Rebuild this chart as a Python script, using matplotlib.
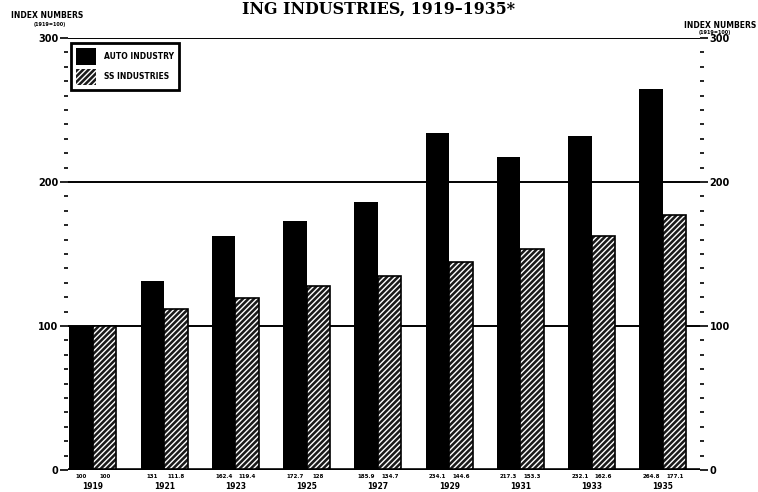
import matplotlib.pyplot as plt
import numpy as np

years = ['1919', '1921', '1923', '1925', '1927', '1929', '1931', '1933', '1935']
auto = [100, 131, 162.4, 172.7, 185.9, 234.1, 217.3, 232.1, 264.8]
ss = [100, 111.8, 119.4, 128, 134.7, 144.6, 153.3, 162.6, 177.1]
y_ticks = [0, 100, 200, 300]

plt.rcParams['hatch.color'] = 'white'
plt.rcParams['hatch.linewidth'] = 1.0

fig = plt.figure(figsize=(7.58, 4.92), dpi=100)
ax = fig.add_axes([0.0897, 0.0447, 0.8338, 0.8783])

x = np.arange(len(years))
w = 0.33

# reference lines at 100/200/300, drawn under the bars
for v in y_ticks[1:]:
    ax.axhline(v, color='black', lw=1.4, zorder=1)
ax.axhline(0, color='black', lw=2.6, zorder=4)

ax.bar(x - w / 2, auto, w, color='black', edgecolor='black', lw=0, zorder=2)
ax.bar(x + w / 2, ss, w, color='#1a1a1a', edgecolor='white', hatch='//////', lw=0, zorder=2)
ax.bar(x + w / 2, ss, w, fill=False, edgecolor='black', lw=1.2, zorder=3)

ax.set_xlim(-0.35, 8.52)
ax.set_ylim(0, 300)
for s in ax.spines.values():
    s.set_visible(False)
ax.set_xticks([])
ax.set_yticks(y_ticks)
ax.set_yticklabels(['0', '100', '200', '300'], fontsize=7, fontweight='bold')
ax.set_yticks(np.arange(0, 301, 10), minor=True)
ax.tick_params(axis='y', which='major', length=6, width=1.2, pad=1)
ax.tick_params(axis='y', which='minor', length=3, width=1.2)

ax2 = ax.twinx()
ax2.set_ylim(0, 300)
for s in ax2.spines.values():
    s.set_visible(False)
ax2.set_yticks(y_ticks)
ax2.set_yticklabels(['0', '100', '200', '300'], fontsize=7, fontweight='bold')
ax2.set_yticks(np.arange(0, 301, 10), minor=True)
ax2.tick_params(axis='y', which='major', length=6, width=1.2, pad=1)
ax2.tick_params(axis='y', which='minor', length=3, width=1.2)

# values and years below each pair
for i in range(len(years)):
    ax.text(x[i] - w / 2, -2.5, f'{auto[i]:g}', ha='center', va='top', fontsize=4, fontweight='bold')
    ax.text(x[i] + w / 2, -2.5, f'{ss[i]:g}', ha='center', va='top', fontsize=4, fontweight='bold')
    ax.text(x[i], -8.5, years[i], ha='center', va='top', fontsize=5.5, fontweight='bold')

# legend box
ax.bar([0], [0], color='black', label='AUTO INDUSTRY')
ax.bar([0], [0], color='#1a1a1a', edgecolor='white', hatch='//////', lw=0, label='SS INDUSTRIES')
leg = ax.legend(loc='upper left', bbox_to_anchor=(0.004, 0.988),
                prop={'weight': 'bold', 'size': 5.5}, handlelength=2.7, handleheight=2.9,
                fancybox=False, framealpha=1, borderpad=0.7, labelspacing=0.5,
                handletextpad=1.0, borderaxespad=0)
leg.get_frame().set_edgecolor('black')
leg.get_frame().set_linewidth(2)
leg.set_zorder(5)

fig.text(0.014, 0.968, 'INDEX NUMBERS', fontsize=5.5, fontweight='bold', va='center')
fig.text(0.065, 0.951, '(1919=100)', fontsize=3.5, fontweight='bold', va='center', ha='center')
fig.text(0.998, 0.949, 'INDEX NUMBERS', fontsize=5.5, fontweight='bold', va='center', ha='right')
fig.text(0.943, 0.934, '(1919=100)', fontsize=3.5, fontweight='bold', va='center', ha='center')

fig.text(0.50, 0.982, 'ING INDUSTRIES, 1919\u20131935*', family='DejaVu Serif',
         fontsize=11.4, fontweight='bold', ha='center', va='center')

fig.savefig('out.png', dpi=100)
